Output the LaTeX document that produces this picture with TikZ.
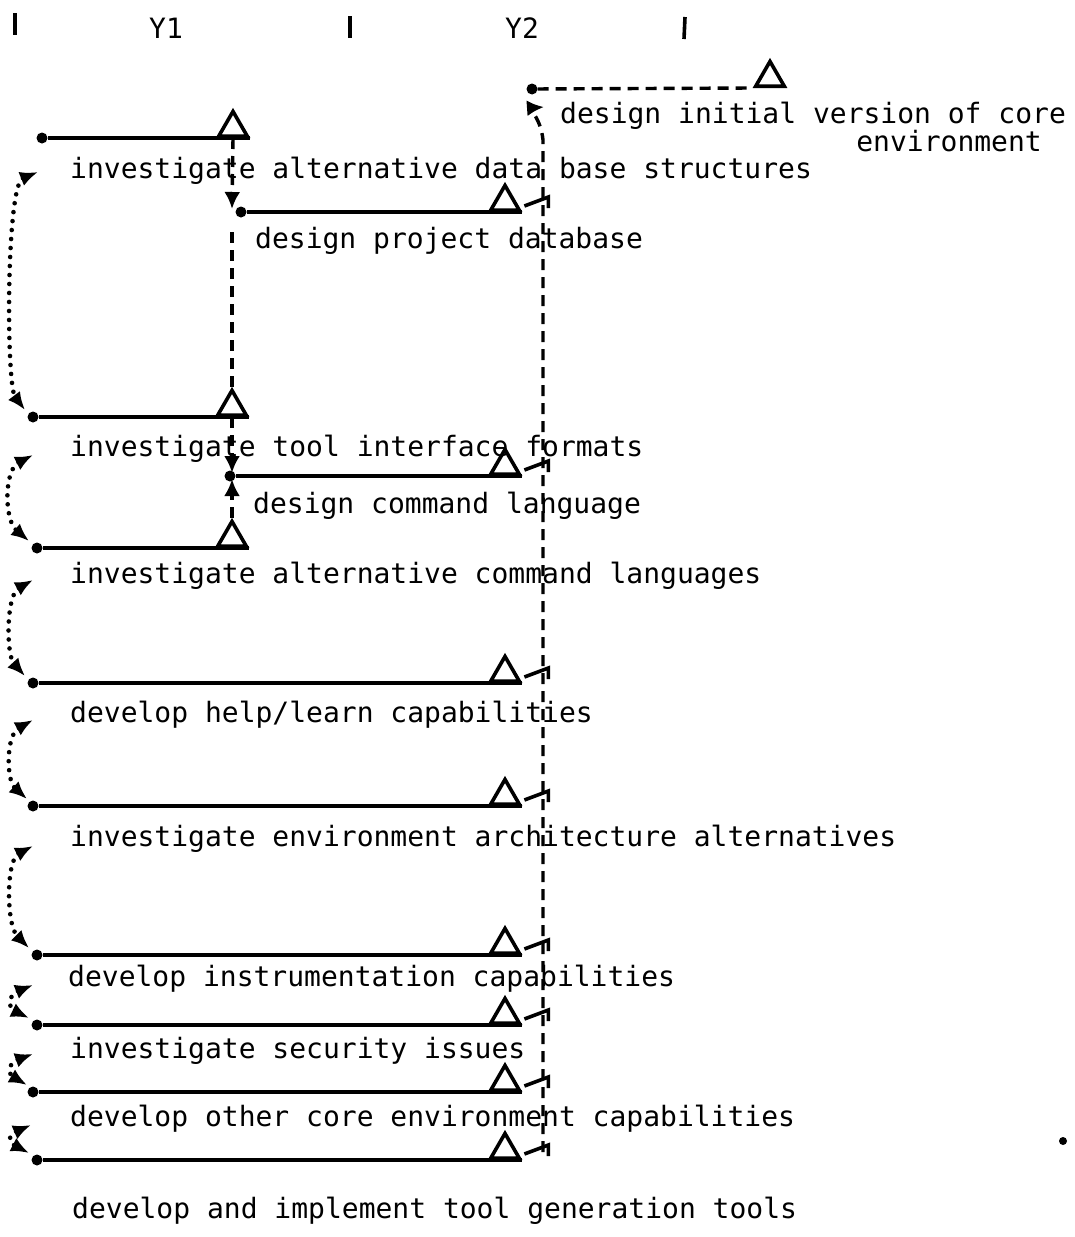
\documentclass[tikz,border=0pt]{standalone}
\usepackage{fontspec}
\newfontfamily\plotfont{DejaVu Sans Mono}
\usetikzlibrary{arrows.meta,shapes.geometric,calc}
\begin{document}
\begin{tikzpicture}[x=1pt,y=-1pt,
  startdot/.style={circle,fill=black,inner sep=0pt,minimum size=11pt},
  endtri/.style={regular polygon,regular polygon sides=3,draw=black,line width=3.6pt,inner sep=0pt,minimum size=33pt,anchor=side 2},
  bar/.style={line width=3.8pt},
  lbl/.style={font=\plotfont\fontsize{28}{30}\selectfont,inner sep=0pt,anchor=base west},
  dep/.style={line width=3.4pt,dash pattern=on 11pt off 7pt},
  hook/.style={line width=3.6pt},
  tickmark/.style={line width=3.6pt},
  dotlink/.style={line width=4.6pt,line cap=round,dash pattern=on 0pt off 9pt,
     {Latex[length=18pt,width=15pt]}-{Latex[length=18pt,width=15pt]}},
  tip/.style={-{Latex[length=17pt,width=16pt]}},
]
\useasboundingbox (0,0) rectangle (1075,1237);

% time axis
\draw[tickmark] (15,13) -- (15,35);
\draw[tickmark] (350,16) -- (350,38);
\draw[tickmark] (685,17) -- (684,39);
\node[lbl,anchor=base] (y1) at (166,38) {Y1};
\node[lbl,anchor=base] (y2) at (522,38) {Y2};

% task 1 (dashed)
\node[startdot] (s1) at (532,89) {};
\node[endtri] (e1) at (770,88) {};
\draw[dep] (s1) -- (e1.corner 2);
\node[lbl] (l1) at (560,123) {design initial version of core};
\node[lbl,anchor=base east] (l1b) at (1042,151) {environment};

% tasks with solid bars
\node[startdot] (s2) at (42,138) {};   \node[endtri] (e2) at (233,138) {};
\node[startdot] (s3) at (241,212) {};  \node[endtri] (e3) at (505,212) {};
\node[startdot] (s4) at (33,417) {};   \node[endtri] (e4) at (232,417) {};
\node[startdot] (s5) at (230,476) {};  \node[endtri] (e5) at (505,476) {};
\node[startdot] (s6) at (37,548) {};   \node[endtri] (e6) at (232,548) {};
\node[startdot] (s7) at (33,683) {};   \node[endtri] (e7) at (505,683) {};
\node[startdot] (s8) at (33,806) {};   \node[endtri] (e8) at (505,806) {};
\node[startdot] (s9) at (37,955) {};   \node[endtri] (e9) at (505,955) {};
\node[startdot] (s10) at (37,1025) {}; \node[endtri] (e10) at (505,1025) {};
\node[startdot] (s11) at (33,1092) {}; \node[endtri] (e11) at (505,1092) {};
\node[startdot] (s12) at (37,1160) {}; \node[endtri] (e12) at (505,1160) {};

\foreach \i in {2,...,12} {\draw[bar] (s\i) -- (e\i.corner 3);}

\node[lbl] (l2) at (70,178) {investigate alternative data base structures};
\node[lbl] (l3) at (255,248) {design project database};
\node[lbl] (l4) at (70,456) {investigate tool interface formats};
\node[lbl] (l5) at (253,513) {design command language};
\node[lbl] (l6) at (70,583) {investigate alternative command languages};
\node[lbl] (l7) at (70,722) {develop help/learn capabilities};
\node[lbl] (l8) at (70,846) {investigate environment architecture alternatives};
\node[lbl] (l9) at (68,986) {develop instrumentation capabilities};
\node[lbl] (l10) at (70,1058) {investigate security issues};
\node[lbl] (l11) at (70,1126) {develop other core environment capabilities};
\node[lbl] (l12) at (72,1218) {develop and implement tool generation tools};

% dependencies in the middle column
\draw[dep,tip] (e2.side 2) -- ($(s3)+(-9,-3)$);
\draw[dep] (e4.corner 1) -- ($(s3)+(-9,13)$);
\draw[dep,tip] (e4.side 2) -- ($(s5)+(2,-3)$);
\draw[dep,tip] (e6.corner 1) -- ($(s5)+(2,3)$);

% right collector line into task 1
\coordinate (rb) at (543,1152);
\draw[dep,tip] (rb) -- (543,140) .. controls (541,120) and (530,108) .. ($(s1)+(12,18)$);
\foreach \i in {3,5,7,8,9,10,11,12} {
  \draw[hook] ($(e\i.corner 3)+(2,-6)$) -- ($(e\i.corner 3)+(26,-15)$) -- ($(e\i.corner 3)+(26,-4)$);
}

% dotted links on the left
\draw[dotlink] ($(s2)+(-4,34)$) .. controls (6,185) and (6,385) .. ($(s4)+(-8,-7)$);
\draw[dotlink] ($(s4)+(0,38)$) .. controls (4,470) and (4,520) .. ($(s6)+(-8,-7)$);
\draw[dotlink] ($(s6)+(-4,32)$) .. controls (6,595) and (6,655) .. ($(s7)+(-8,-7)$);
\draw[dotlink] ($(s7)+(0,37)$) .. controls (6,735) and (6,780) .. ($(s8)+(-6,-7)$);
\draw[dotlink] ($(s8)+(0,40)$) .. controls (6,860) and (6,925) .. ($(s9)+(-8,-7)$);
\draw[dotlink] ($(s9)+(-4,30)$) .. controls (8,995) and (8,1008) .. ($(s10)+(-8,-7)$);
\draw[dotlink] ($(s10)+(-4,29)$) .. controls (8,1063) and (8,1074) .. ($(s11)+(-6,-7)$);
\draw[dotlink] ($(s11)+(-2,33)$) .. controls (8,1135) and (8,1142) .. ($(s12)+(-8,-7)$);

% stray plotter dot
\node[circle,fill=black,inner sep=0pt,minimum size=8pt] (stray) at (1063,1141) {};
\end{tikzpicture}
\end{document}
